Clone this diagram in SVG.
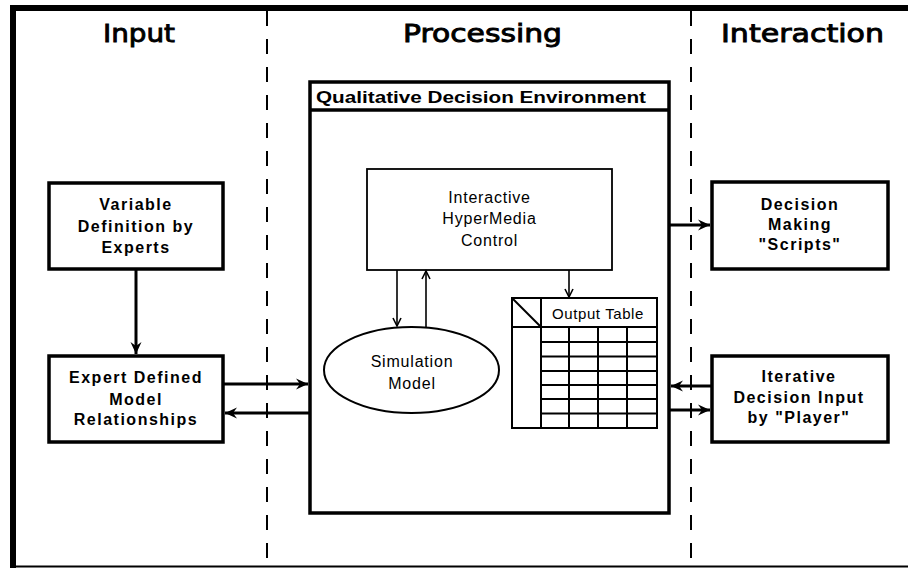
<svg xmlns="http://www.w3.org/2000/svg" width="908" height="569" viewBox="0 0 908 569">
<style>
.title{font-family:"DejaVu Sans",sans-serif;font-size:25px;font-weight:normal;fill:#000;stroke:#000;stroke-width:0.9;text-anchor:middle}
.bold{font-family:"Liberation Sans",Arial,sans-serif;font-size:16px;font-weight:bold;letter-spacing:1.5px;fill:#000;text-anchor:middle}
.norm{font-family:"Liberation Sans",Arial,sans-serif;font-size:16px;letter-spacing:0.8px;fill:#000;text-anchor:middle}
.box{fill:#fff;stroke:#000;stroke-width:3.5}
.thin{fill:#fff;stroke:#000;stroke-width:1.8}
.grid{stroke:#000;stroke-width:2;fill:none}
.dash{stroke:#000;stroke-width:2;stroke-dasharray:15 13}
.arr{stroke:#000;stroke-width:3;fill:none;marker-end:url(#big)}
.arr2{stroke:#000;stroke-width:1.6;fill:none;marker-end:url(#small)}
</style>
<defs>
<marker id="big" markerUnits="userSpaceOnUse" markerWidth="14" markerHeight="12" refX="12" refY="6" orient="auto">
<path d="M0,0.5 L12,6 L0,11.5 L4,6 z" fill="#000"/>
</marker>
<marker id="small" markerUnits="userSpaceOnUse" markerWidth="12" markerHeight="12" refX="9" refY="5" orient="auto">
<path d="M1,1 L9,5 L1,9" fill="none" stroke="#000" stroke-width="1.6"/>
</marker>
</defs>
<rect width="908" height="569" fill="#fff"/>
<g id="frame">
<line x1="10" y1="8" x2="908" y2="8" stroke="#000" stroke-width="6"/>
<line x1="13" y1="5" x2="13" y2="568" stroke="#000" stroke-width="6"/>
<line x1="10" y1="566.5" x2="908" y2="566.5" stroke="#000" stroke-width="2"/>
<line class="dash" x1="267" y1="11" x2="267" y2="566"/>
<line class="dash" x1="691" y1="11" x2="691" y2="566"/>
</g>
<g id="headings">
<text class="title" x="139" y="42" textLength="72" lengthAdjust="spacingAndGlyphs">Input</text>
<text class="title" x="482.5" y="42" textLength="159" lengthAdjust="spacingAndGlyphs">Processing</text>
<text class="title" x="802.5" y="42" textLength="163" lengthAdjust="spacingAndGlyphs">Interaction</text>
</g>
<g id="environment">
<rect class="box" x="310" y="82" width="359" height="431"/>
<line x1="310" y1="110" x2="669" y2="110" stroke="#000" stroke-width="3.5"/>
<text class="bold" x="481" y="103" textLength="330" lengthAdjust="spacingAndGlyphs" style="letter-spacing:0">Qualitative Decision Environment</text>
</g>
<g id="variable-definition">
<rect class="box" x="49" y="183" width="174" height="86"/>
<text class="bold" x="136" y="210">Variable</text>
<text class="bold" x="136" y="232">Definition by</text>
<text class="bold" x="136" y="253">Experts</text>
</g>
<g id="expert-defined">
<rect class="box" x="49" y="356" width="174" height="86"/>
<text class="bold" x="136" y="383">Expert Defined</text>
<text class="bold" x="136" y="405">Model</text>
<text class="bold" x="136" y="425">Relationships</text>
</g>
<g id="decision-making">
<rect class="box" x="712" y="182" width="176" height="87"/>
<text class="bold" x="800" y="210">Decision</text>
<text class="bold" x="800" y="230">Making</text>
<text class="bold" x="800" y="250">"Scripts"</text>
</g>
<g id="iterative-decision">
<rect class="box" x="712" y="356" width="176" height="86"/>
<text class="bold" x="799" y="382">Iterative</text>
<text class="bold" x="799" y="403">Decision Input</text>
<text class="bold" x="799" y="423">by "Player"</text>
</g>
<g id="hypermedia-control">
<rect class="thin" x="367" y="169" width="245" height="101"/>
<text class="norm" x="489.5" y="203">Interactive</text>
<text class="norm" x="489.5" y="224">HyperMedia</text>
<text class="norm" x="489.5" y="246">Control</text>
</g>
<g id="simulation-model">
<ellipse cx="411.5" cy="370" rx="87.5" ry="43" fill="#fff" stroke="#000" stroke-width="2"/>
<text class="norm" x="412" y="367">Simulation</text>
<text class="norm" x="412" y="389">Model</text>
</g>
<g id="output-table">
<rect x="512" y="298" width="145" height="130" fill="#fff" stroke="#000" stroke-width="2"/>
<line class="grid" x1="512" y1="327" x2="657" y2="327"/>
<line class="grid" x1="541" y1="298" x2="541" y2="428"/>
<line class="grid" x1="512" y1="298" x2="541" y2="327"/>
<text class="norm" x="598" y="319" style="font-size:15px;letter-spacing:0.6px">Output Table</text>
<path class="grid" d="M569,327V428 M598,327V428 M627,327V428 M541,342H657 M541,356.5H657 M541,371H657 M541,385H657 M541,399H657 M541,413.5H657"/>
</g>
<g id="connectors">
<line class="arr" x1="136" y1="269" x2="136" y2="354"/>
<line class="arr" x1="223" y1="384" x2="308" y2="384"/>
<line class="arr" x1="310" y1="413" x2="225" y2="413"/>
<line class="arr" x1="669" y1="225" x2="710" y2="225"/>
<line class="arr" x1="712" y1="386" x2="671" y2="386"/>
<line class="arr" x1="669" y1="410" x2="710" y2="410"/>
<line class="arr2" x1="397" y1="270" x2="397" y2="326"/>
<line class="arr2" x1="426" y1="327" x2="426" y2="271"/>
<line class="arr2" x1="569" y1="270" x2="569" y2="297"/>
</g>
</svg>
